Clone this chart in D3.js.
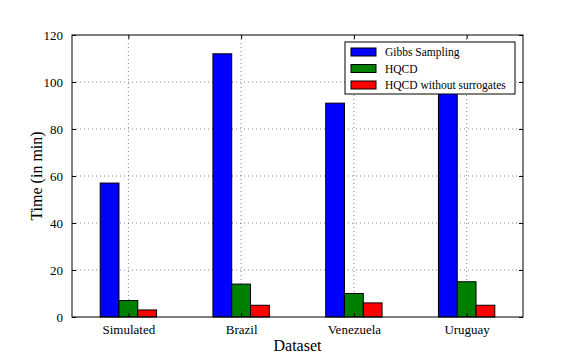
<!DOCTYPE html>
<html>
<head>
<meta charset="utf-8">
<script src="https://cdn.jsdelivr.net/npm/d3@7"></script>
<style>
  body { margin: 0; background: #fff; }
  svg text { font-family: "Liberation Serif", "DejaVu Serif", serif; fill: #000; }
</style>
</head>
<body>
<div id="chart"></div>
<script>
// data
const categories = ["Simulated", "Brazil", "Venezuela", "Uruguay"];
const seriesNames = ["Gibbs Sampling", "HQCD", "HQCD without surrogates"];
const gibbs = [57, 112, 91, 100];
const hqcd = [7, 14, 10, 15];
const hqcdNoSur = [3, 5, 6, 5];
const yTicks = [0, 20, 40, 60, 80, 100, 120];
const colors = ["#0000ff", "#008000", "#ff0000"];

const width = 581, height = 363;
const margin = {top: 35, right: 58, bottom: 46, left: 72};
const iw = width - margin.left - margin.right;
const ih = height - margin.top - margin.bottom;

const svg = d3.select("#chart").append("svg")
    .attr("width", width)
    .attr("height", height);

const g = svg.append("g")
    .attr("transform", `translate(${margin.left},${margin.top})`);

// scales
const x = d3.scaleLinear().domain([-0.5, 3.5]).range([0, iw]);
const y = d3.scaleLinear().domain([0, 120]).range([ih, 0]);
const barW = 1 / 6;

// grid
g.selectAll("line.hgrid")
    .data(yTicks.slice(1, -1))
    .enter().append("line")
    .attr("class", "hgrid")
    .attr("x1", 0).attr("x2", iw)
    .attr("y1", d => y(d)).attr("y2", d => y(d))
    .attr("stroke", "#333").attr("stroke-width", 0.6)
    .attr("stroke-dasharray", "1,3");

g.selectAll("line.vgrid")
    .data(categories)
    .enter().append("line")
    .attr("class", "vgrid")
    .attr("x1", (d, i) => x(i)).attr("x2", (d, i) => x(i))
    .attr("y1", 0).attr("y2", ih)
    .attr("stroke", "#333").attr("stroke-width", 0.6)
    .attr("stroke-dasharray", "1,3");

// bars
const series = [gibbs, hqcd, hqcdNoSur];
series.forEach((vals, s) => {
    g.selectAll("rect.s" + s)
        .data(vals)
        .enter().append("rect")
        .attr("class", "s" + s)
        .attr("x", (d, i) => x(i - 0.25 + s * barW))
        .attr("width", x(barW) - x(0))
        .attr("y", d => y(d))
        .attr("height", d => ih - y(d))
        .attr("fill", colors[s])
        .attr("stroke", "#000")
        .attr("stroke-width", 1);
});

// axes (ticks inward, on all sides)
const yAxisL = d3.axisLeft(y).tickValues(yTicks).tickSizeInner(-4).tickSizeOuter(0).tickPadding(8);
const yAxisR = d3.axisRight(y).tickValues(yTicks).tickSizeInner(-4).tickSizeOuter(0).tickFormat("");
const xAxisB = d3.axisBottom(x).tickValues([0, 1, 2, 3]).tickSizeInner(-4).tickSizeOuter(0)
    .tickPadding(8).tickFormat(i => categories[i]);
const xAxisT = d3.axisTop(x).tickValues([0, 1, 2, 3]).tickSizeInner(-4).tickSizeOuter(0).tickFormat("");

const ay = g.append("g").call(yAxisL);
g.append("g").attr("transform", `translate(${iw},0)`).call(yAxisR);
const ax = g.append("g").attr("transform", `translate(0,${ih})`).call(xAxisB);
g.append("g").call(xAxisT);

g.selectAll(".domain").remove();
g.selectAll(".tick line").attr("stroke", "#000");
[ay, ax].forEach(a => {
    a.attr("font-family", "Liberation Serif").attr("font-size", 13);
    a.selectAll("text")
        .style("font-family", "'Liberation Serif', serif")
        .style("font-size", "13px")
        .attr("fill", "#000");
});
ay.selectAll("text").attr("dx", "-1");

// frame
g.append("rect")
    .attr("x", 0).attr("y", 0)
    .attr("width", iw).attr("height", ih)
    .attr("fill", "none")
    .attr("stroke", "#000")
    .attr("stroke-width", 1);

// axis labels
svg.append("text")
    .attr("x", margin.left + iw / 2)
    .attr("y", 351)
    .attr("text-anchor", "middle")
    .style("font-size", "16px")
    .text("Dataset");

svg.append("text")
    .attr("transform", `translate(42,${margin.top + ih / 2}) rotate(-90)`)
    .attr("text-anchor", "middle")
    .style("font-size", "16px")
    .text("Time (in min)");

// legend
const lg = svg.append("g").attr("transform", "translate(345,42)");
lg.append("rect")
    .attr("width", 170).attr("height", 52)
    .attr("fill", "#fff").attr("stroke", "#000").attr("stroke-width", 1);

const items = lg.selectAll("g.item")
    .data(seriesNames)
    .enter().append("g")
    .attr("class", "item")
    .attr("transform", (d, i) => `translate(6,${10 + i * 16.5})`);

items.append("rect")
    .attr("y", -4).attr("width", 25).attr("height", 8)
    .attr("fill", (d, i) => colors[i])
    .attr("stroke", "#000").attr("stroke-width", 1);

items.append("text")
    .attr("x", 34).attr("dy", "0.35em")
    .style("font-size", "11.5px")
    .text(d => d);
</script>
</body>
</html>
